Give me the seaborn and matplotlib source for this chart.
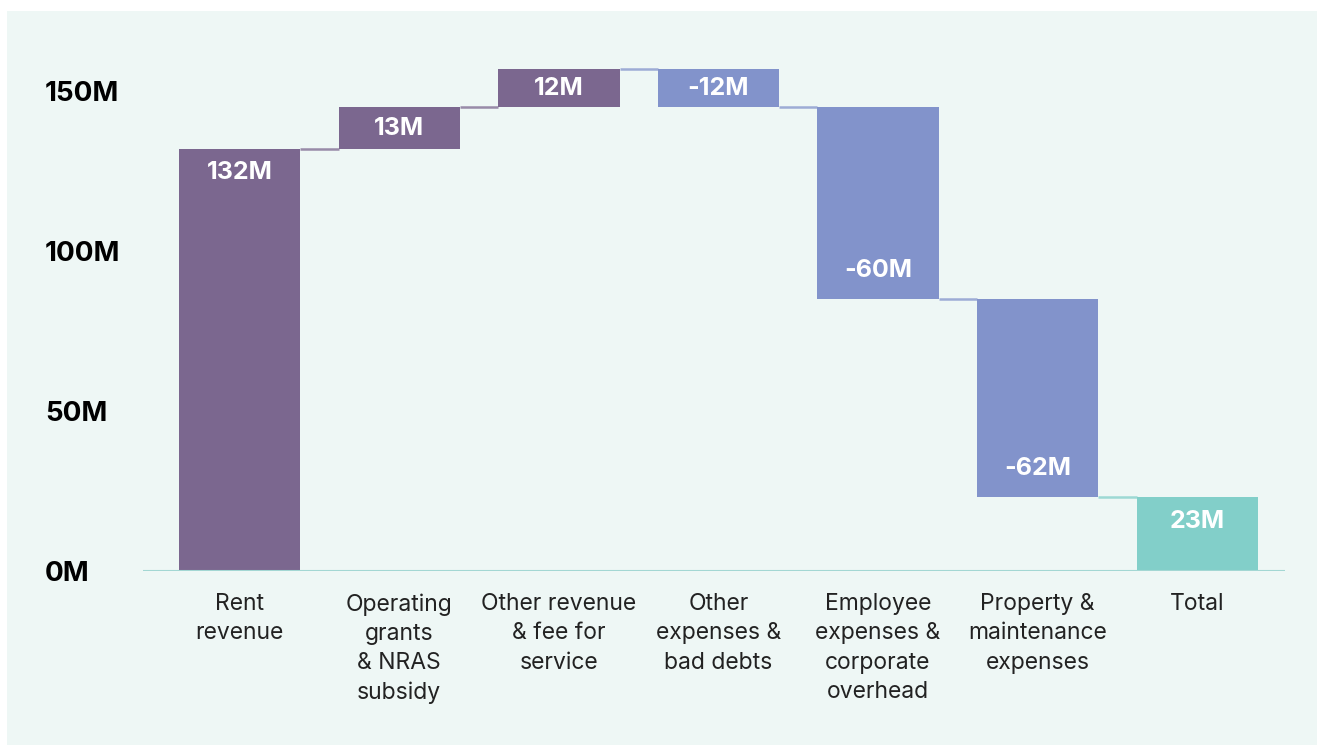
import matplotlib
matplotlib.use("Agg")
import matplotlib.pyplot as plt
from matplotlib.patches import Rectangle
import matplotlib.transforms as mtransforms
import seaborn as sns
import numpy as np

categories = ["Rent\nrevenue", "Operating\ngrants\n& NRAS\nsubsidy", "Other revenue\n& fee for\nservice",
              "Other\nexpenses &\nbad debts", "Employee\nexpenses &\ncorporate\noverhead",
              "Property &\nmaintenance\nexpenses", "Total"]
changes = [132, 13, 12, -12, -60, -62]
total = 23
value_labels = ["132M", "13M", "12M", "-12M", "-60M", "-62M", "23M"]
yticks = [0, 50, 100, 150]
ytick_labels = ["0M", "50M", "100M", "150M"]

PURPLE = "#7b678f"
BLUE = "#8293cb"
TEAL = "#82cfc9"
BG = "#eef7f5"

sns.set_theme(style="white")
plt.rcParams["font.family"] = ["Inter", "DejaVu Sans"]

# waterfall geometry from the data
ends = np.cumsum(changes)
starts = ends - np.array(changes)
bottoms = list(np.minimum(starts, ends)) + [0]
heights = [abs(c) for c in changes] + [total]
colors = [PURPLE if c > 0 else BLUE for c in changes] + [TEAL]
signed = changes + [total]

fig = plt.figure(figsize=(13.24, 7.46), dpi=100)
fig.patch.set_facecolor("white")
fig.patches.append(Rectangle((7 / 1324, 1 - 745 / 746), 1310 / 1324, 734 / 746,
                             transform=fig.transFigure, facecolor=BG, edgecolor="none", zorder=-10))
ax = fig.add_axes([143 / 1324, 1 - 571 / 746, (1285 - 143) / 1324, (571 - 59.5) / 746])
ax.set_facecolor("none")

sns.barplot(x=categories, y=heights, bottom=bottoms, ax=ax, width=0.76, color=PURPLE,
            saturation=1, zorder=3)
for p, c in zip(ax.patches, colors):
    p.set_facecolor(c)
    p.set_edgecolor("none")

# connectors
levels = list(ends)
half = 0.38
for i, lvl in enumerate(levels):
    ax.plot([i + half, i + 1 - half], [lvl, lvl], color=colors[i + 1], lw=1.8, alpha=0.75,
            zorder=2, solid_capstyle="butt")

# value labels
off_data = 7.5
for i, (b, h, s, lab) in enumerate(zip(bottoms, heights, signed, value_labels)):
    if h < 2 * off_data:
        y = b + h / 2
    elif s > 0:
        y = b + h - off_data
    else:
        y = b + off_data + 1.5
    ax.text(i, y, lab, ha="center", va="center", color="white", fontsize=18,
            fontweight="bold", zorder=5)

ax.axhline(0, color="#a3d7d3", lw=1.5, zorder=4)
ax.set_xlim(-0.606, 6.55)
ax.set_ylim(0, 160)
for s in ax.spines.values():
    s.set_visible(False)
ax.set_yticks(yticks)
ax.set_yticklabels(ytick_labels, fontsize=20, fontweight="bold", color="black")
shift = mtransforms.ScaledTranslation(0, 4 / 100, fig.dpi_scale_trans)
for t in ax.get_yticklabels():
    t.set_ha("left")
    t.set_transform(t.get_transform() + shift)
ax.tick_params(axis="y", length=0, pad=70.5)
ax.tick_params(axis="x", length=0, pad=16, labelsize=16.5, labelcolor="#222222")
for t in ax.get_xticklabels():
    t.set_linespacing(1.42)
ax.set_xlabel("")
ax.set_ylabel("")
ax.grid(False)

fig.savefig("out.png", dpi=100, facecolor="white")
